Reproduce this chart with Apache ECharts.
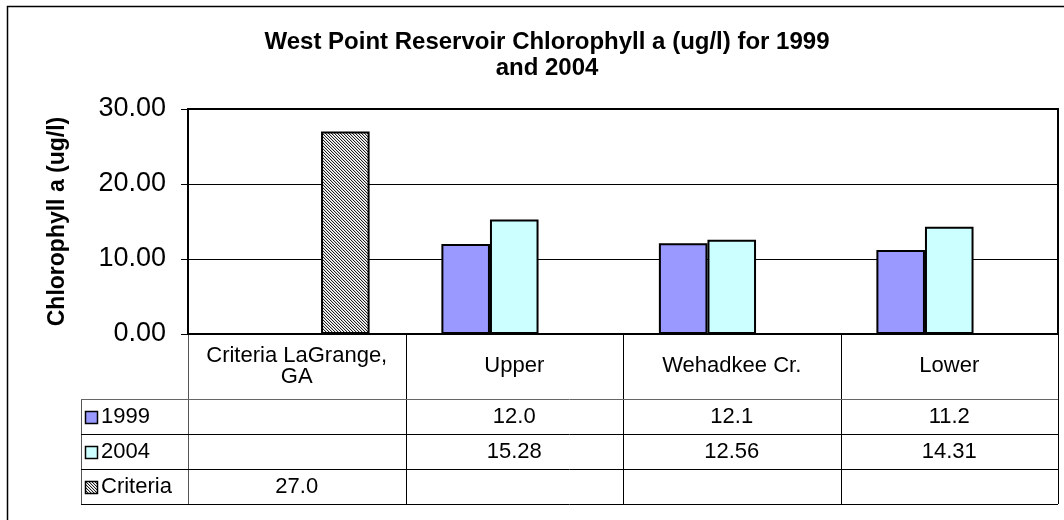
<!DOCTYPE html>
<html>
<head>
<meta charset="utf-8">
<script src="https://cdn.jsdelivr.net/npm/echarts@6/dist/echarts.min.js"></script>
<style>html,body{margin:0;padding:0;background:#fff;}#c{width:1064px;height:520px;}</style>
</head>
<body>
<div id="c"></div>
<script>
// ---- data ----
const categories = ['Criteria LaGrange,\nGA', 'Upper', 'Wehadkee Cr.', 'Lower'];
const seriesNames = ['1999', '2004', 'Criteria'];
const values1999 = [null, 12.0, 12.1, 11.2];
const values2004 = [null, 15.28, 12.56, 14.31];
const valuesCriteria = [27.0, null, null, null];
const tableDecimals = [1, 2, 1];
const yMin = 0, yMax = 30, yInterval = 10;

// ---- styles ----
const FONT = '"Liberation Sans", Arial, sans-serif';
const colors = ['#9999ff', '#ccffff', null];

function makeHatch() {
  const n = 3;
  const c = document.createElement('canvas');
  c.width = n; c.height = n;
  const g = c.getContext('2d');
  g.fillStyle = '#ffffff'; g.fillRect(0, 0, n, n);
  for (let i = 0; i < n; i++) {
    g.fillStyle = '#222222'; g.fillRect(i, i, 1, 1);
    g.fillStyle = '#d0d0d0'; g.fillRect((i + 1) % n, i, 1, 1);
  }
  return c;
}
const hatch = { image: makeHatch(), repeat: 'repeat' };
const fills = [colors[0], colors[1], hatch];
const seriesData = [values1999, values2004, valuesCriteria];

const chart = echarts.init(document.getElementById('c'), null, { renderer: 'canvas' });

const option = {
  backgroundColor: '#ffffff',
  animation: false,
  title: {
    text: 'West Point Reservoir Chlorophyll a (ug/l) for 1999\nand 2004',
    left: 542, top: 24, textAlign: 'center',
    textStyle: { fontFamily: FONT, fontSize: 24, fontWeight: 'bold', color: '#000', lineHeight: 26 }
  },
  grid: { left: 188, top: 109, right: 6, bottom: 186, show: true, borderColor: '#000', borderWidth: 2, backgroundColor: '#fff' },
  xAxis: {
    type: 'category', data: categories,
    axisLine: { lineStyle: { color: '#000', width: 2 } },
    axisTick: { show: false },
    axisLabel: { fontFamily: FONT, fontSize: 22, color: '#000', margin: 32, verticalAlign: 'middle', lineHeight: 21, interval: 0 }
  },
  yAxis: {
    type: 'value', min: yMin, max: yMax, interval: yInterval,
    name: 'Chlorophyll a (ug/l)', nameLocation: 'middle', nameGap: 119,
    nameTextStyle: { fontFamily: FONT, fontSize: 23, fontWeight: 'bold', color: '#000' },
    axisLine: { show: true, lineStyle: { color: '#000', width: 2 } },
    axisTick: { show: true, length: 7, lineStyle: { color: '#000' } },
    axisLabel: { fontFamily: FONT, fontSize: 27, color: '#000', margin: 22, formatter: v => v.toFixed(2) },
    splitLine: { lineStyle: { color: '#000', width: 1 } }
  },
  series: seriesNames.map((n, i) => ({
    name: n, type: 'bar', data: seriesData[i],
    barGap: '0%', barCategoryGap: '33%',
    itemStyle: { color: fills[i], borderColor: '#000', borderWidth: 2 }
  }))
};
chart.setOption(option);

// ---- data table below the plot ----
function buildTable() {
  const cx = categories.map((_, i) => chart.convertToPixel({ xAxisIndex: 0 }, i));
  const band = cx.length > 1 ? cx[1] - cx[0] : 200;
  const xEdges = [cx[0] - band / 2].concat(cx.map(c => c + band / 2));
  const y0 = chart.convertToPixel({ yAxisIndex: 0 }, 0);
  const headerH = 65, rowH = 35;
  const legendLeft = 81;
  const rowsTop = y0 + headerH;
  const tableBottom = rowsTop + rowH * seriesNames.length;
  const els = [];
  const line = (x1, y1, x2, y2, c) => els.push({ type: 'line', shape: { x1, y1, x2, y2 }, style: { stroke: c || '#000', lineWidth: 1 }, silent: true });
  xEdges.forEach((x, k) => line(Math.round(x) + 0.5, y0, Math.round(x) + 0.5, tableBottom, k === 0 ? '#555' : '#000'));
  line(legendLeft + 0.5, rowsTop, legendLeft + 0.5, tableBottom, '#555');
  for (let r = 0; r <= seriesNames.length; r++) {
    const y = Math.round(rowsTop + r * rowH) + 0.5;
    line(legendLeft, y, xEdges[xEdges.length - 1], y, r === 0 ? '#666' : '#000');
  }
  seriesNames.forEach((n, r) => {
    const yc = rowsTop + r * rowH + rowH / 2;
    els.push({ type: 'rect', shape: { x: legendLeft + 4.5, y: Math.round(yc - 6) + 0.5, width: 12, height: 12 }, style: { fill: fills[r], stroke: '#000', lineWidth: 1.5 }, silent: true });
    els.push({ type: 'text', x: legendLeft + 20, y: yc, style: { text: n, font: '22px ' + FONT, fill: '#000', align: 'left', verticalAlign: 'middle' }, silent: true });
    seriesData[r].forEach((v, i) => {
      if (v === null || v === undefined) return;
      els.push({ type: 'text', x: cx[i], y: yc, style: { text: v.toFixed(tableDecimals[r]), font: '22px ' + FONT, fill: '#000', align: 'center', verticalAlign: 'middle' }, silent: true });
    });
  });
  els.push({ type: 'rect', shape: { x: 7.5, y: 6.5, width: 1080, height: 540 }, style: { fill: 'none', stroke: '#000', lineWidth: 1.5 }, silent: true, z: 10 });
  chart.setOption({ graphic: { elements: els } });
}
buildTable();
</script>
</body>
</html>
